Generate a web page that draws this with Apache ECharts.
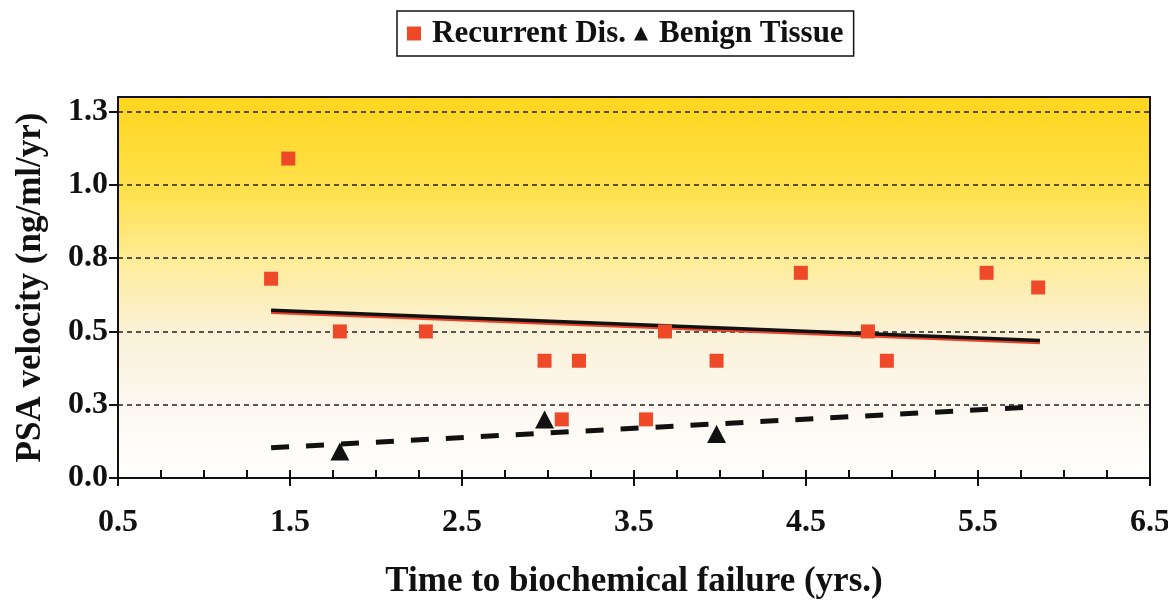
<!DOCTYPE html>
<html>
<head>
<meta charset="utf-8">
<script src="https://cdn.jsdelivr.net/npm/echarts@6/dist/echarts.min.js"></script>
<style>
html,body{margin:0;padding:0;background:#fff;}
#chart{width:1168px;height:604px;}
</style>
</head>
<body>
<div id="chart"></div>
<script>
// ---- data ----
const recurrentX = [1.39, 1.49, 1.79, 2.29, 2.98, 3.18, 3.08, 3.57, 3.68, 3.98, 4.47, 4.86, 4.97, 5.55, 5.85];
const recurrentY = [0.68, 1.09, 0.50, 0.50, 0.40, 0.40, 0.20, 0.20, 0.50, 0.40, 0.70, 0.50, 0.40, 0.70, 0.65];
const benignX = [1.79, 2.98, 3.98];
const benignY = [0.09, 0.20, 0.15];
const recurrentTrendX = [1.39, 5.86];
const recurrentTrendY = [0.572, 0.469];
const benignTrendX = [1.39, 5.83];
const benignTrendY = [0.103, 0.243];
const xTickValues = [0.5, 1.5, 2.5, 3.5, 4.5, 5.5, 6.5];
const xTickLabels = ['0.5', '1.5', '2.5', '3.5', '4.5', '5.5', '6.5'];
const xMinorTicks = [0.5, 0.75, 1, 1.25, 1.5, 1.75, 2, 2.25, 2.5, 2.75, 3, 3.25, 3.5, 3.75, 4, 4.25, 4.5, 4.75, 5, 5.25, 5.5, 5.75, 6, 6.25, 6.5];
const yTickValues = [0, 0.25, 0.5, 0.75, 1.0, 1.25];
const yTickLabels = ['0.0', '0.3', '0.5', '0.8', '1.0', '1.3'];
const seriesNames = ['Recurrent Dis.', 'Benign Tissue'];
const xTitle = 'Time to biochemical failure (yrs.)';
const yTitle = 'PSA velocity (ng/ml/yr)';

const zip = (xs, ys) => xs.map((x, i) => [x, ys[i]]);
const FONT = "'Liberation Serif', 'Times New Roman', serif";

const chart = echarts.init(document.getElementById('chart'), null, {renderer: 'canvas'});
chart.setOption({
  animation: false,
  backgroundColor: '#ffffff',
  legend: {
    data: seriesNames,
    left: 397,
    top: 11,
    padding: [7, 10, 7, 10],
    borderColor: '#111',
    borderWidth: 1.5,
    itemGap: 8,
    itemWidth: 14,
    itemHeight: 14,
    textStyle: {fontFamily: FONT, fontWeight: 'bold', fontSize: 31, color: '#111', padding: [0, 0, 0, 6]}
  },
  grid: {
    left: 118, right: 18, top: 97, bottom: 126,
    outerBoundsMode: 'none',
    show: true,
    borderColor: '#111',
    borderWidth: 2,
    backgroundColor: new echarts.graphic.LinearGradient(0, 0, 0, 1, [
      {offset: 0, color: '#FFD51C'},
      {offset: 0.25, color: '#FFE14E'},
      {offset: 0.45, color: '#FEEDA0'},
      {offset: 0.62, color: '#FAF1D8'},
      {offset: 0.8, color: '#FCF8F0'},
      {offset: 1, color: '#FFFFFF'}
    ])
  },
  xAxis: [{
    type: 'value',
    min: 0.5, max: 6.5,
    position: 'bottom',
    name: xTitle,
    nameLocation: 'middle',
    nameGap: 86,
    nameTextStyle: {fontFamily: FONT, fontWeight: 'bold', fontSize: 35, color: '#111'},
    axisLine: {show: true, lineStyle: {color: '#111', width: 2}},
    axisTick: {show: true, customValues: xTickValues, length: 8, inside: false, lineStyle: {color: '#111', width: 2}},
    axisLabel: {
      customValues: xTickValues,
      formatter: v => { const i = xTickValues.findIndex(t => Math.abs(t - v) < 1e-6); return i >= 0 ? xTickLabels[i] : ''; },
      margin: 29,
      fontFamily: FONT, fontWeight: 'bold', fontSize: 32, color: '#111'
    },
    splitLine: {show: false}
  }, {
    type: 'value',
    min: 0.5, max: 6.5,
    position: 'bottom',
    axisLine: {show: false},
    axisTick: {show: true, customValues: xMinorTicks, inside: true, length: 8, lineStyle: {color: '#111', width: 2}},
    axisLabel: {show: false},
    splitLine: {show: false}
  }],
  yAxis: {
    type: 'value',
    min: 0, max: 1.3, interval: 0.25,
    name: yTitle,
    nameLocation: 'middle',
    nameGap: 70,
    nameTextStyle: {fontFamily: FONT, fontWeight: 'bold', fontSize: 35, color: '#111'},
    axisLine: {show: true, lineStyle: {color: '#111', width: 2}},
    axisTick: {show: true, customValues: yTickValues, length: 9, lineStyle: {color: '#111', width: 2}},
    axisLabel: {
      customValues: yTickValues,
      formatter: v => { const i = yTickValues.findIndex(t => Math.abs(t - v) < 1e-6); return i >= 0 ? yTickLabels[i] : ''; },
      margin: 10,
      fontFamily: FONT, fontWeight: 'bold', fontSize: 32, color: '#111'
    },
    splitLine: {show: true, lineStyle: {color: '#222', width: 1.6, type: [5, 4]}}
  },
  series: [{
    name: 'Recurrent trend',
    type: 'line',
    data: zip(recurrentTrendX, recurrentTrendY),
    symbol: 'none',
    lineStyle: {color: '#111', width: 3.5, shadowColor: '#E8432A', shadowBlur: 0, shadowOffsetY: 2},
    z: 3
  }, {
    name: 'Benign trend',
    type: 'line',
    data: zip(benignTrendX, benignTrendY),
    symbol: 'none',
    lineStyle: {color: '#111', width: 5, type: [18, 17]},
    z: 3
  }, {
    name: seriesNames[0],
    type: 'scatter',
    data: zip(recurrentX, recurrentY),
    symbol: 'rect',
    symbolSize: 14,
    itemStyle: {color: '#EE4A2A', opacity: 1},
    z: 4
  }, {
    name: seriesNames[1],
    type: 'scatter',
    data: zip(benignX, benignY),
    symbol: 'triangle',
    symbolSize: [19, 18],
    itemStyle: {color: '#111', opacity: 1},
    z: 5
  }]
});
</script>
</body>
</html>
